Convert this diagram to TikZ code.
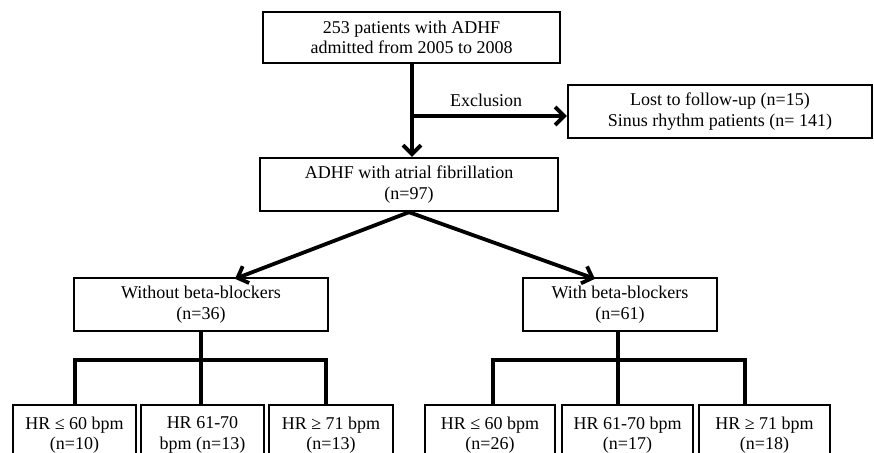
\documentclass[tikz,border=0pt]{standalone}
\usepackage{fontspec}
\setmainfont{Liberation Serif}
\usetikzlibrary{arrows.meta,calc}
\begin{document}
\begin{tikzpicture}[x=1pt,y=-1pt,
  box/.style={draw=black,line width=2.4pt,rectangle,inner sep=0pt,align=center,
    font=\fontsize{18}{20.5}\selectfont},
  conn/.style={line width=3.8pt,line cap=rect},
  arr/.style={line width=3.8pt,-{Straight Barb[length=9pt,width=18pt,line width=3.8pt]}},
  lbl/.style={font=\fontsize{18}{20.5}\selectfont,inner sep=1pt}]
\useasboundingbox (0,0) rectangle (874,452);
\clip (0,0) rectangle (874,452);
\fill[white] (0,0) rectangle (874,452);
\node[box,minimum width=297pt,minimum height=51pt] (top) at (411.5,37.5) {253 patients with ADHF\\admitted from 2005 to 2008};
\node[box,minimum width=304pt,minimum height=53pt] (excl) at (720,111.5) {Lost to follow-up (n=15)\\Sinus rhythm patients (n= 141)};
\node[box,minimum width=298pt,minimum height=53pt] (af) at (409,184.5) {ADHF with atrial fibrillation\\(n=97)};
\node[box,minimum width=254pt,minimum height=53pt] (wo) at (201,304.5) {Without beta-blockers\\(n=36)};
\node[box,minimum width=194pt,minimum height=53pt] (wi) at (620,304.5) {With beta-blockers\\(n=61)};
\node[box,minimum width=123pt,minimum height=60pt] (b1) at (74.5,435) {HR ≤ 60 bpm\\(n=10)};
\node[box,minimum width=123pt,minimum height=60pt] (b2) at (202.5,435) {HR 61-70\\bpm (n=13)};
\node[box,minimum width=124pt,minimum height=60pt] (b3) at (331,435) {HR ≥ 71 bpm\\(n=13)};
\node[box,minimum width=130pt,minimum height=60pt] (b4) at (490,435) {HR ≤ 60 bpm\\(n=26)};
\node[box,minimum width=131pt,minimum height=60pt] (b5) at (627.5,435) {HR 61-70 bpm\\(n=17)};
\node[box,minimum width=131pt,minimum height=60pt] (b6) at (764.5,435) {HR ≥ 71 bpm\\(n=18)};
% top to AF
\coordinate (ex) at (412,116);
\draw[arr] (top.south -| ex) -- (af.north -| ex);
\draw[arr] (ex) -- (ex -| excl.west);
\node[lbl] (exlbl) at (486,100) {Exclusion};
% AF to groups
\draw[arr] (af.south) -- ([xshift=34pt,yshift=-2pt]wo.north);
\draw[arr] (af.south) -- ([xshift=-25pt,yshift=-2pt]wi.north);
% left tree
\coordinate (j1) at (201,360);
\draw[conn] (wo.south) -- (j1);
\draw[conn] ([xshift=0.5pt]b1.north) |- (j1) -| ([xshift=-5pt]b3.north);
\draw[conn] (j1) -- ([xshift=-1.5pt]b2.north);
% right tree
\coordinate (j2) at (618,360);
\draw[conn] ([xshift=-2pt]wi.south) -- (j2);
\draw[conn] ([xshift=3pt]b4.north) |- (j2) -| ([xshift=-19.5pt]b6.north);
\draw[conn] (j2) -- ([xshift=-9.5pt]b5.north);
\end{tikzpicture}
\end{document}
